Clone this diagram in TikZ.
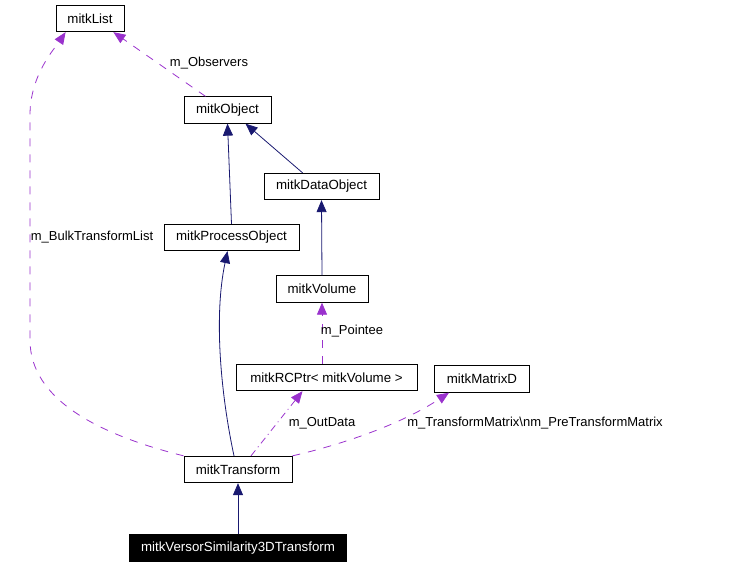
\documentclass[tikz,border=0pt]{standalone}
\usepackage{fontspec}
\setmainfont{Liberation Sans}
\usepackage{xcolor}
\usetikzlibrary{arrows.meta}
\definecolor{inhblue}{HTML}{191970}
\definecolor{usepurple}{HTML}{9A32CD}

\begin{document}
\begin{tikzpicture}[
        x=1pt, y=-1pt,
        box/.style = {draw, rectangle, inner sep=0pt, minimum height=26.5pt, font=\fontsize{13.3}{15}\selectfont, line width=0.8pt},
        current/.style = {box, fill=black, text=white},
        inherit/.style = {draw=inhblue, line width=0.8pt, -{Triangle[length=12pt, width=10pt, fill=inhblue]}},
        usage/.style = {draw=usepurple, line width=0.8pt, dash pattern=on 8pt off 8pt, -{Triangle[length=12pt, width=10pt, fill=usepurple]}},
        usagedot/.style = {usage, dash pattern=on 7pt off 4pt on 1pt off 4pt},
        elabel/.style = {font=\fontsize{13}{15}\selectfont, inner sep=0pt}
    ]
        \useasboundingbox (0,0) rectangle (753,565);

        % === Classes ===
        \node (list) [box, minimum width=68pt] at (90,18.5) {mitkList};
        \node (object) [box, minimum width=87pt] at (227.5,110) {mitkObject};
        \node (dataObject) [box, minimum width=115pt] at (321.5,186.5) {mitkDataObject};
        \node (processObject) [box, minimum width=135pt] at (231.5,237.5) {mitkProcessObject};
        \node (volume) [box, minimum width=92pt] at (322,289) {mitkVolume};
        \node (rcPtr) [box, minimum width=181pt] at (326.5,377.5) {mitkRCPtr< mitkVolume >};
        \node (matrixD) [box, minimum width=95pt] at (482,379) {mitkMatrixD};
        \node (transform) [box, minimum width=108pt] at (238,469.5) {mitkTransform};
        \node (versor) [current, minimum width=217pt] at (238,548) {mitkVersorSimilarity3DTransform};

        % === Inheritance ===
        \draw [inherit] ([xshift=39pt]dataObject.north west) -- ([xshift=18pt]object.south);
        \draw [inherit] (processObject.north) -- (object.south);
        \draw [inherit] (volume.north) -- (dataObject.south);
        \draw [inherit] ([xshift=-4pt]transform.north) .. controls (222,400) and (213,320) .. ([xshift=-4pt]processObject.south);
        \draw [inherit] (versor.north) -- (transform.south);

        % === Usage ===
        \draw [usage] ([xshift=-22pt]object.north) -- ([xshift=-11pt]list.south east);
        \draw [usage] (transform.north west) .. controls (100,435) and (30,400) .. (30,340) -- (30,115) .. controls (30,75) and (55,48) .. ([xshift=10pt]list.south west);
        \draw [usage] (rcPtr.north -| volume.south) -- (volume.south);
        \draw [usagedot] ([xshift=13pt]transform.north) -- ([xshift=-24pt]rcPtr.south);
        \draw [usage] (transform.north east) .. controls (340,445) and (400,425) .. ([xshift=-33pt]matrixD.south);

        % === Labels ===
        \node (lblObservers) [elabel] at (209,63) {m\_Observers};
        \node (lblBulk) [elabel] at (92,237) {m\_BulkTransformList};
        \node (lblPointee) [elabel] at (352,331) {m\_Pointee};
        \node (lblOutData) [elabel] at (322,423) {m\_OutData};
        \node (lblMatrix) [elabel] at (535,423) {m\_TransformMatrix\textbackslash nm\_PreTransformMatrix};
    \end{tikzpicture}
\end{document}
